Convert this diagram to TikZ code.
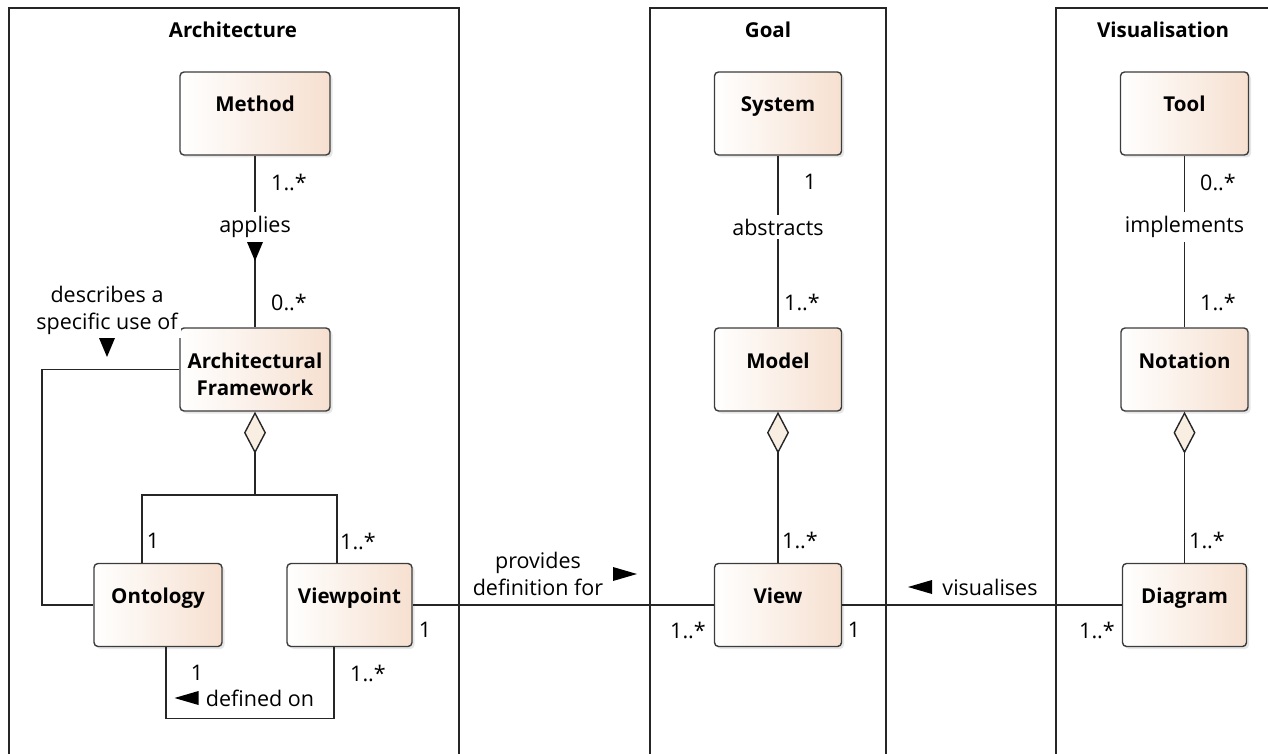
\documentclass[tikz,border=0pt]{standalone}
\usepackage{fontspec}
\setmainfont{Open Sans}
\usepackage{tikz}
\usetikzlibrary{arrows.meta, shadows}
\definecolor{clsedge}{RGB}{60,60,60}
\definecolor{clsfill}{RGB}{246,224,208}
\definecolor{aggfill}{RGB}{248,238,226}
\tikzstyle{cls} = [rectangle, draw=clsedge, line width=1.4pt, rounded corners=4pt,
    left color=white, right color=clsfill, minimum width=127pt, minimum height=83pt,
    font=\fontsize{20.5}{27}\selectfont\bfseries, text height=14pt, text depth=17pt,
    drop shadow={opacity=0.2, shadow xshift=2.5pt, shadow yshift=-2.5pt}]
\tikzstyle{pkg} = [draw=black!85, line width=1.4pt]
\tikzstyle{pkgname} = [font=\fontsize{20.5}{27}\selectfont\bfseries]
\tikzstyle{verb} = [fill=white, inner xsep=3pt, inner ysep=4pt, align=center,
    font=\fontsize{21.5}{27}\selectfont]
\tikzstyle{mult} = [inner sep=0pt, font=\fontsize{21.5}{27}\selectfont]
\tikzstyle{assoc} = [draw=black!85, line width=1.4pt]
\tikzstyle{agg} = [assoc, {Diamond[length=42pt, width=22pt, fill=aggfill]}-]
\newcommand{\tridown}[1]{\fill (#1) +(-8,9) -- +(8,9) -- +(0,-10) -- cycle;}
\newcommand{\trileft}[1]{\fill (#1) +(12,7) -- +(12,-7) -- +(-12,0) -- cycle;}
\newcommand{\triright}[1]{\fill (#1) +(-12,7) -- +(-12,-7) -- +(12,0) -- cycle;}

\begin{document}
\begin{tikzpicture}[x=1pt, y=1pt]
            \useasboundingbox (0,0) rectangle (1268,-754);

            % Packages
            \draw [pkg] (9,-760) -- (9,-8) -- (459,-8) -- (459,-760);
            \draw [pkg] (650,-760) -- (650,-8) -- (886,-8) -- (886,-760);
            \draw [pkg] (1056,-760) -- (1056,-8) -- (1275,-8) -- (1275,-760);
            \node [pkgname] (arch) at (233,-30) {Architecture};
            \node [pkgname] (goal) at (768,-30) {Goal};
            \node [pkgname] (visu) at (1163,-30) {Visualisation};

            % Place nodes
            \node [cls, minimum width=150pt] (method) at (255,-113.5) {Method};
            \node [cls, minimum width=150pt, align=center, text height=56pt, text depth=5pt,
                below of=method, node distance=256pt] (archfw) {Architectural\\Framework};
            \node [cls, minimum width=128pt, below of=archfw, node distance=235.5pt, xshift=-97pt] (ontology) {Ontology};
            \node [cls, minimum width=125pt, right of=ontology, node distance=191.5pt] (viewpoint) {Viewpoint};

            \node [cls, right of=method, node distance=523pt] (system) {System};
            \node [cls, below of=system, node distance=256pt] (model) {Model};
            \node [cls, below of=model, node distance=235.5pt] (view) {View};

            \node [cls, minimum width=128pt, right of=system, node distance=406.5pt] (tool) {Tool};
            \node [cls, below of=tool, node distance=256pt] (notation) {Notation};
            \node [cls, minimum width=124pt, below of=notation, node distance=235.5pt] (diagram) {Diagram};

            % Draw edges
            \path [assoc] (method) -- node [verb, pos=0.416] (applies) {applies} (archfw);
            \tridown{255,-251}
            \coordinate (fork) at (255,-495);
            \path [agg] (archfw) -- (fork);
            \path [assoc] (fork) -| ([xshift=-16pt]ontology.north);
            \path [assoc] (fork) -| ([xshift=-12.5pt]viewpoint.north);
            \coordinate (bend) at (42,-371);
            \path [assoc] (archfw.west) -- (archfw.west -| bend) |- (ontology.west);
            \node [verb] (describes) at (107,-310) {describes a\\specific use of};
            \tridown{107,-347}
            \path [assoc] ([xshift=8pt]ontology.south) -- ++(0,-71) -| ([xshift=-15.5pt]viewpoint.south);
            \node [mult] (definedon) at (260,-698) {defined on};
            \trileft{186.5,-698}

            \path [assoc] (viewpoint) -- (view);
            \node [verb] (provides) at (538,-574) {provides\\definition for};
            \triright{625,-574}
            \path [assoc] (view) -- (diagram);
            \node [mult] (visualises) at (990,-587) {visualises};
            \trileft{920,-587}

            \path [assoc] (system) -- node [verb, pos=0.416] (abstracts) {abstracts} (model);
            \path [agg] (model) -- (view);
            \path [assoc] (tool) -- node [verb, pos=0.416] (implements) {implements} (notation);
            \path [agg] (notation) -- (diagram);

            % Multiplicities
            \node [mult] (mmethod) at (289,-182) {1..*};
            \node [mult] (marchfw) at (289,-302) {0..*};
            \node [mult] (montowhole) at (153,-541) {1};
            \node [mult] (mvpwhole) at (358,-541) {1..*};
            \node [mult] (mvpview) at (425,-630) {1};
            \node [mult] (mviewvp) at (688,-630) {1..*};
            \node [mult] (mviewdiag) at (854,-630) {1};
            \node [mult] (mdiagview) at (1097,-630) {1..*};
            \node [mult] (montovp) at (197,-673) {1};
            \node [mult] (mvponto) at (368,-673) {1..*};
            \node [mult] (msystem) at (810,-182) {1};
            \node [mult] (mmodel) at (802,-302) {1..*};
            \node [mult] (mview) at (800,-540) {1..*};
            \node [mult] (mtool) at (1218,-182) {0..*};
            \node [mult] (mnotation) at (1218,-302) {1..*};
            \node [mult] (mdiagram) at (1207,-540) {1..*};

        \end{tikzpicture}
\end{document}
